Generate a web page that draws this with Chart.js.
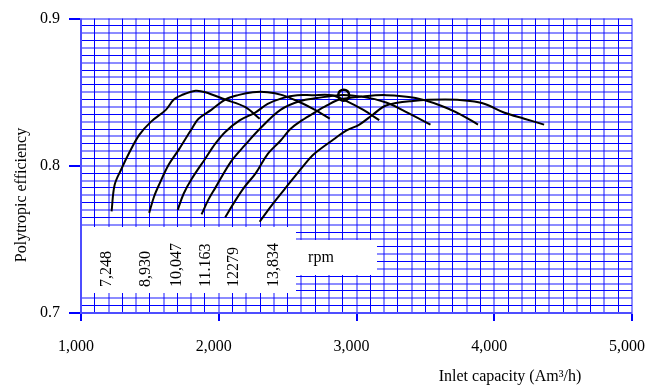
<!DOCTYPE html>
<html lang="en">
<head>
    <meta charset="UTF-8">
    <title>Polytropic efficiency vs inlet capacity</title>
    <script src="https://cdn.jsdelivr.net/npm/chart.js"></script>
    <style>
        body { margin: 0; background: #fff; }
    </style>
</head>
<body>

<canvas id="effChart" width="666" height="391"></canvas>

<script>
    // Speed lines (rpm)
    const speedLabels = ['7,248', '8,930', '10,047', '11.163', '12279', '13,834'];

    // Inlet capacity (Am3/h) and polytropic efficiency per speed line
    const q7248  = [1222, 1244, 1294, 1351, 1423, 1509, 1616, 1674, 1731, 1831, 1903, 2047, 2190, 2297];
    const eta7248 = [0.769, 0.787, 0.798, 0.809, 0.821, 0.830, 0.838, 0.845, 0.848, 0.851, 0.850, 0.845, 0.840, 0.832];

    const q8930  = [1495, 1530, 1566, 1638, 1710, 1803, 1853, 1946, 2047, 2140, 2247, 2355, 2462, 2570, 2699, 2806];
    const eta8930 = [0.768, 0.779, 0.787, 0.801, 0.811, 0.825, 0.832, 0.838, 0.845, 0.848, 0.850, 0.850, 0.848, 0.844, 0.838, 0.832];

    const q10047  = [1702, 1745, 1803, 1903, 1975, 2047, 2154, 2262, 2355, 2462, 2570, 2677, 2821, 2928, 3050, 3165];
    const eta10047 = [0.770, 0.781, 0.791, 0.805, 0.815, 0.823, 0.831, 0.836, 0.842, 0.846, 0.848, 0.848, 0.848, 0.844, 0.838, 0.831];

    const q11163  = [1875, 1925, 1975, 2090, 2190, 2297, 2448, 2591, 2713, 2878, 3036, 3215, 3373, 3537];
    const eta11163 = [0.767, 0.777, 0.785, 0.803, 0.814, 0.825, 0.838, 0.844, 0.846, 0.848, 0.847, 0.843, 0.836, 0.828];

    const q12279  = [2047, 2118, 2190, 2269, 2355, 2448, 2520, 2606, 2692, 2785, 2878, 3036, 3215, 3429, 3609, 3753, 3882];
    const eta12279 = [0.765, 0.776, 0.786, 0.795, 0.808, 0.817, 0.825, 0.831, 0.836, 0.841, 0.845, 0.847, 0.848, 0.846, 0.841, 0.835, 0.828];

    const q13834  = [2297, 2391, 2520, 2606, 2692, 2835, 2928, 3021, 3122, 3215, 3408, 3645, 3824, 3932, 4075, 4218, 4362];
    const eta13834 = [0.762, 0.774, 0.789, 0.799, 0.808, 0.818, 0.824, 0.828, 0.835, 0.841, 0.844, 0.845, 0.844, 0.842, 0.836, 0.832, 0.828];

    // Design point (circle)
    const designQ = [2907];
    const designEta = [0.848];

    const speedQ = [q7248, q8930, q10047, q11163, q12279, q13834];
    const speedEta = [eta7248, eta8930, eta10047, eta11163, eta12279, eta13834];

    const FONT = 'Liberation Serif, Times New Roman, serif';
    const BLUE = 'rgb(0, 0, 255)';
    const LIGHT_BLUE = 'rgba(0, 0, 255, 0.45)';

    function toPoints(xs, ys) {
        return xs.map((x, i) => ({ x: x, y: ys[i] }));
    }

    const datasets = [{
        data: toPoints(designQ, designEta),
        showLine: false,
        pointRadius: 5.5,
        pointBorderWidth: 2.5,
        pointBorderColor: '#000',
        pointBackgroundColor: 'rgba(0,0,0,0)'
    }];
    speedQ.forEach((qs, i) => {
        datasets.push({
            label: speedLabels[i],
            data: toPoints(qs, speedEta[i]),
            showLine: true,
            borderColor: '#000',
            borderWidth: 2,
            pointRadius: 0,
            tension: 0.35,
            fill: false
        });
    });

    // White label boxes, speed labels and axis titles, drawn like the scan
    const annotations = {
        id: 'annotations',
        beforeDatasetsDraw(chart) {
            const ctx = chart.ctx;
            ctx.save();
            ctx.fillStyle = '#fff';
            ctx.fillRect(82, 227, 214, 66);
            ctx.fillRect(296, 240, 81, 35);

            ctx.fillStyle = '#000';
            ctx.font = '16px ' + FONT;
            ctx.textBaseline = 'middle';
            const labelX = [107, 146, 177, 206, 234, 274];
            speedLabels.forEach((txt, i) => {
                ctx.save();
                ctx.translate(labelX[i], 287);
                ctx.rotate(-Math.PI / 2);
                ctx.textAlign = 'left';
                ctx.fillText(txt, 0, 0);
                ctx.restore();
            });
            ctx.textAlign = 'center';
            ctx.fillText('rpm', 321, 258);
            ctx.restore();
        },
        afterDraw(chart) {
            const ctx = chart.ctx;
            ctx.save();
            ctx.fillStyle = '#000';
            ctx.font = '16px ' + FONT;
            ctx.textAlign = 'center';
            ctx.textBaseline = 'middle';
            ctx.fillText('Inlet capacity (Am\u00b3/h)', 510, 377);
            ctx.translate(22, 195);
            ctx.rotate(-Math.PI / 2);
            ctx.fillText('Polytropic efficiency', 0, 0);
            ctx.restore();
        }
    };

    const ctx = document.getElementById('effChart').getContext('2d');
    const effChart = new Chart(ctx, {
        type: 'scatter',
        data: { datasets: datasets },
        options: {
            responsive: false,
            animation: false,
            layout: { padding: { top: 15, right: 27, left: 0, bottom: 0 } },
            plugins: {
                legend: { display: false },
                tooltip: { enabled: false }
            },
            scales: {
                x: {
                    type: 'linear',
                    min: 1000,
                    max: 5000,
                    afterFit(scale) { scale.height = 78; },
                    border: { color: LIGHT_BLUE, width: 2 },
                    grid: {
                        color: c => c.index % 2 ? BLUE : LIGHT_BLUE,
                        lineWidth: c => c.index % 2 ? 1 : 2,
                        tickColor: c => c.index % 10 === 0 ? BLUE : 'rgba(0,0,0,0)',
                        tickLength: 8
                    },
                    ticks: {
                        stepSize: 100,
                        maxTicksLimit: 60,
                        autoSkip: false,
                        maxRotation: 0,
                        padding: 16,
                        labelOffset: -5,
                        color: '#000',
                        font: { family: FONT, size: 16 },
                        callback: v => v % 1000 === 0 ? Number(v).toLocaleString('en-US') : ''
                    }
                },
                y: {
                    min: 0.7,
                    max: 0.9,
                    afterFit(scale) { scale.width = 81; },
                    border: { color: LIGHT_BLUE, width: 2 },
                    grid: {
                        color: c => c.index % 2 ? BLUE : LIGHT_BLUE,
                        lineWidth: c => c.index % 2 ? 1 : 2,
                        tickColor: c => c.index % 20 === 0 ? BLUE : 'rgba(0,0,0,0)',
                        tickLength: 12
                    },
                    ticks: {
                        stepSize: 0.005,
                        maxTicksLimit: 60,
                        autoSkip: false,
                        padding: 9,
                        color: '#000',
                        font: { family: FONT, size: 16 },
                        callback: v => Math.abs(v * 10 - Math.round(v * 10)) < 1e-6 ? Number(v).toFixed(1) : ''
                    }
                }
            }
        },
        plugins: [annotations]
    });
</script>

</body>
</html>
